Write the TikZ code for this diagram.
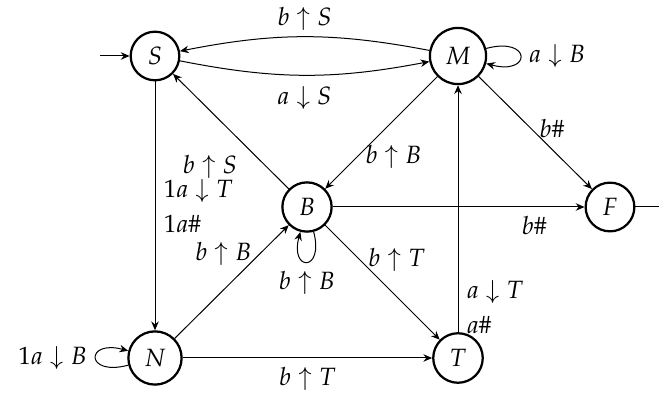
\documentclass[tikz,border=0pt]{standalone}
\usepackage{amssymb,amsmath}
\usepackage{mathpazo}
\usetikzlibrary{arrows.meta}

\begin{document}
\begin{tikzpicture}[x=0.4pt,y=0.4pt,>={Stealth[length=3.5pt,width=3pt]}]
	\tikzstyle{state}=[draw,circle,line width=0.9pt,inner sep=3.6pt]
	\useasboundingbox (0,0) rectangle (659,-398);
	\node[state] (S) at (155,-56) {$S$};
	\node[state] (M) at (458,-56) {$M$};
	\node[state] (B) at (307,-207) {$B$};
	\node[state] (F) at (610,-207) {$F$};
	\node[state] (N) at (155,-358) {$N$};
	\node[state] (T) at (458,-358) {$T$};
	\coordinate (start) at (100,-56);
	\coordinate (exit) at (668,-207);

	\draw[->] (start) -- (S);
	\draw[->] (F) -- (exit);
	\draw[->] (S) to[bend right=11] node[below=1pt] {$a\downarrow S$} (M);
	\draw[->] (M) to[bend right=11] node[above=-1pt] {$b\uparrow S$} (S);
	\draw[->] (M) to[loop right] node[right] {$a\downarrow B$} (M);
	\draw[->] (M) -- (B) node[pos=0.72,right] {$b\uparrow B$};
	\draw[->] (M) -- (F) node[pos=0.46,right] {$b\#$};
	\draw[->] (B) -- (S) node[pos=0.37,below left] {$b\uparrow S$};
	\draw[->] (B) -- (F) node[pos=0.8,below] {$b\#$};
	\draw[->] (B) to[loop below] node[below] {$b\uparrow B$} (B);
	\draw[->] (B) -- (T) node[pos=0.3,right] {$b\uparrow T$};
	\draw[->] (N) -- (B) node[pos=0.75,left] {$b\uparrow B$};
	\draw[->] (S) -- (N) node[pos=0.5,right,align=left] {$1a\downarrow T$\\[2pt]$1a\#$};
	\draw[->] (N) to[loop left] node[left] {$1a\downarrow B$} (N);
	\draw[->] (N) -- (T) node[pos=0.5,below] {$b\uparrow T$};
	\draw[->] (T) -- (M) node[pos=0.1,right,align=left] {$a\downarrow T$\\[2pt]$a\#$};
\end{tikzpicture}
\end{document}
